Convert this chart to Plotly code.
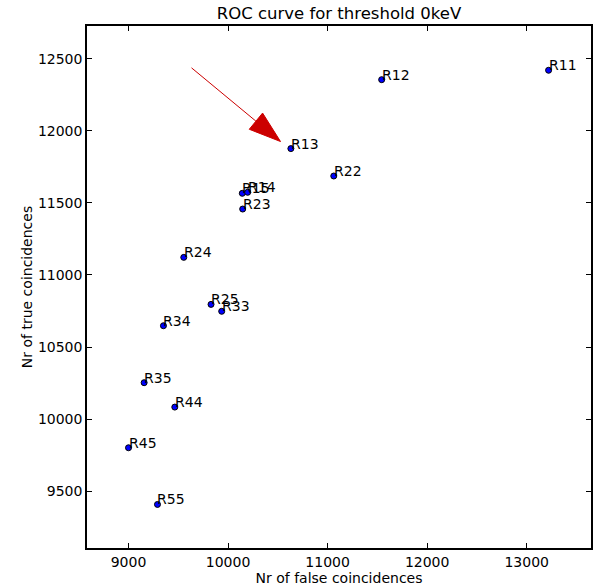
import math
import plotly.graph_objects as go

# Readout channels and their coincidence counts
labels = ["R11", "R12", "R13", "R22", "R15", "R14", "R23", "R24",
          "R25", "R33", "R34", "R35", "R44", "R45", "R55"]
false_coinc = [13220, 11543, 10631, 11062, 10143, 10197, 10147, 9555,
               9829, 9936, 9351, 9157, 9465, 9000, 9291]
true_coinc = [12419, 12354, 11876, 11686, 11566, 11573, 11457, 11122,
              10796, 10748, 10648, 10253, 10084, 9802, 9409]

x_ticks = [9000, 10000, 11000, 12000, 13000]
y_ticks = [9500, 10000, 10500, 11000, 11500, 12000, 12500]

# Arrow pointing at the chosen working point (data coordinates)
arrow_tail = (9633, 12436)
arrow_tip = (10527, 11925)

x_range = [8583, 13646]
y_range = [9107, 12726]

W, H = 596, 586
margin = dict(l=87, r=3, t=26, b=38)
plot_w = W - margin["l"] - margin["r"]
plot_h = H - margin["t"] - margin["b"]
sx = plot_w / (x_range[1] - x_range[0])
sy = plot_h / (y_range[1] - y_range[0])

font = "DejaVu Sans"

fig = go.Figure()
fig.add_trace(go.Scatter(
    x=false_coinc, y=true_coinc, mode="markers",
    marker=dict(color="#0000ff", size=6, line=dict(color="black", width=1)),
    hoverinfo="skip", showlegend=False,
))

for lab, xv, yv in zip(labels, false_coinc, true_coinc):
    fig.add_annotation(x=xv, y=yv, text=lab, showarrow=False,
                       xanchor="left", yanchor="bottom", xshift=-2, yshift=-5,
                       font=dict(family=font, size=14, color="black"))

# Arrow: shaft up to the head base, then a filled triangular head (sized in pixels)
head_len, head_w = 32.0, 21.0
tx, ty = arrow_tail[0] * sx, arrow_tail[1] * sy
hx, hy = arrow_tip[0] * sx, arrow_tip[1] * sy
dx, dy = hx - tx, hy - ty
L = math.hypot(dx, dy)
ux, uy = dx / L, dy / L
bx, by = hx - ux * head_len, hy - uy * head_len
px, py = -uy, ux
c1 = ((bx + px * head_w / 2) / sx, (by + py * head_w / 2) / sy)
c2 = ((bx - px * head_w / 2) / sx, (by - py * head_w / 2) / sy)
base = (bx / sx, by / sy)

fig.add_shape(type="line", x0=arrow_tail[0], y0=arrow_tail[1], x1=base[0], y1=base[1],
              line=dict(color="#cc0000", width=1))
fig.add_shape(type="path",
              path=f"M {c1[0]},{c1[1]} L {arrow_tip[0]},{arrow_tip[1]} L {c2[0]},{c2[1]} Z",
              fillcolor="#cc0000", line=dict(color="#cc0000", width=1))

axis_common = dict(
    showgrid=False, zeroline=False, showline=True, linecolor="black", linewidth=1.5,
    mirror="ticks", ticks="inside", ticklen=5, tickcolor="black", tickwidth=1,
    tickfont=dict(family=font, size=14, color="black"),
)

fig.update_xaxes(range=x_range, tickvals=x_ticks, ticktext=[str(v) for v in x_ticks],
                 title=dict(text="Nr of false coincidences", standoff=4,
                            font=dict(family=font, size=14, color="black")),
                 **axis_common)
fig.update_yaxes(range=y_range, tickvals=y_ticks, ticktext=[str(v) for v in y_ticks],
                 title=dict(text="Nr of true coincidences", standoff=2,
                            font=dict(family=font, size=14, color="black")),
                 **axis_common)

fig.update_layout(
    width=W, height=H, margin=margin,
    paper_bgcolor="white", plot_bgcolor="white",
    title=dict(text="ROC curve for threshold 0keV", xref="paper", x=0.5, xanchor="center",
               y=1 - 13 / H, yanchor="middle",
               font=dict(family=font, size=16.5, color="black")),
)

fig.write_html("out.html")
